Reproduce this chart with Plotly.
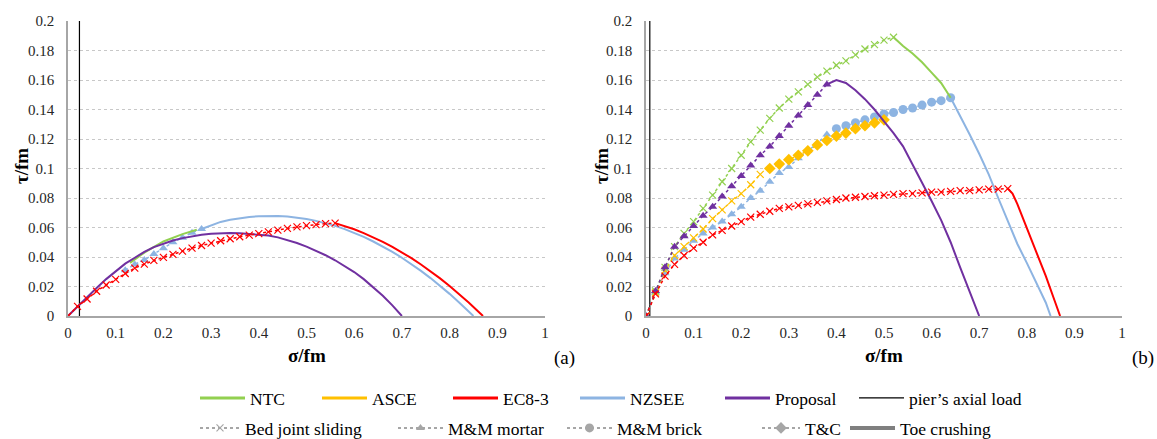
import plotly.graph_objects as go

# ---------------- data ----------------
# Panel (a)
EC8_A_BJS_X = [0, 0.02, 0.04, 0.06, 0.08, 0.10, 0.12, 0.14, 0.16, 0.18, 0.20, 0.22, 0.24, 0.26, 0.28,
               0.30, 0.32, 0.34, 0.36, 0.38, 0.40, 0.42, 0.44, 0.46, 0.48, 0.50, 0.52, 0.54, 0.56]
EC8_A_BJS_Y = [0, 0.0065, 0.0115, 0.0168, 0.021, 0.0248, 0.0288, 0.0325, 0.0352, 0.0377, 0.0397, 0.0418,
               0.044, 0.046, 0.0478, 0.0494, 0.051, 0.0524, 0.0537, 0.0548, 0.0558, 0.0570, 0.0582, 0.0594,
               0.0604, 0.0613, 0.0620, 0.0626, 0.0630]
EC8_A_TOE_X = [0.56, 0.58, 0.60, 0.62, 0.64, 0.66, 0.68, 0.70, 0.72, 0.74, 0.76, 0.78, 0.80, 0.82, 0.84, 0.86, 0.87]
EC8_A_TOE_Y = [0.0630, 0.0611, 0.0588, 0.0562, 0.0534, 0.0503, 0.0469, 0.0432, 0.0392, 0.0349, 0.0303,
               0.0255, 0.0203, 0.0149, 0.0091, 0.0031, 0.0]
NZSEE_A_MOR_X = [0.12, 0.14, 0.16, 0.18, 0.20, 0.22, 0.24, 0.26, 0.28]
NZSEE_A_MOR_Y = [0.031, 0.035, 0.038, 0.042, 0.046, 0.050, 0.053, 0.0565, 0.059]
NZSEE_A_TOE_X = [0.28, 0.30, 0.32, 0.34, 0.36, 0.38, 0.40, 0.42, 0.44, 0.46, 0.48, 0.50, 0.52, 0.54, 0.56,
                 0.58, 0.60, 0.62, 0.64, 0.66, 0.68, 0.70, 0.72, 0.74, 0.76, 0.78, 0.80, 0.82, 0.84, 0.85]
NZSEE_A_TOE_Y = [0.059, 0.0615, 0.0638, 0.0652, 0.0663, 0.0671, 0.0677, 0.0679, 0.0678, 0.0675, 0.0668,
                 0.0658, 0.0645, 0.0630, 0.0611, 0.0589, 0.0564, 0.0536, 0.0505, 0.0472, 0.0435, 0.0395,
                 0.0352, 0.0306, 0.0257, 0.0205, 0.0150, 0.0092, 0.0032, 0.0]
NTC_A_TOE_X = [0.13, 0.16, 0.20, 0.24, 0.27]
NTC_A_TOE_Y = [0.036, 0.043, 0.0505, 0.0555, 0.0585]
PROP_A_X = [0, 0.02, 0.04, 0.06, 0.08, 0.10, 0.12, 0.14, 0.16, 0.18, 0.20, 0.22, 0.24, 0.26, 0.28, 0.30,
            0.32, 0.34, 0.36, 0.38, 0.40, 0.42, 0.44, 0.46, 0.48, 0.50, 0.52, 0.54, 0.56, 0.58, 0.60,
            0.62, 0.64, 0.66, 0.68, 0.70]
PROP_A_Y = [0, 0.0065, 0.0128, 0.0190, 0.0250, 0.0300, 0.0355, 0.0395, 0.0435, 0.0467, 0.0492, 0.0512,
            0.0528, 0.0541, 0.0551, 0.0557, 0.0561, 0.0562, 0.0561, 0.0557, 0.0552, 0.0545, 0.0533,
            0.0516, 0.0495, 0.0470, 0.0443, 0.0412, 0.0378, 0.0340, 0.0298, 0.0250, 0.0196, 0.0137,
            0.0072, 0.0]
PIER_A_X = [0.024, 0.024]

# Panel (b)
NTC_B_BJS_X = [0, 0.02, 0.04, 0.06, 0.08, 0.10, 0.12, 0.14, 0.16, 0.18, 0.20, 0.22, 0.24, 0.26, 0.28,
               0.30, 0.32, 0.34, 0.36, 0.38, 0.40, 0.42, 0.44, 0.46, 0.48, 0.50, 0.52]
NTC_B_BJS_Y = [0, 0.017, 0.033, 0.047, 0.056, 0.064, 0.073, 0.082, 0.091, 0.100, 0.109, 0.118, 0.126,
               0.134, 0.141, 0.147, 0.152, 0.157, 0.162, 0.166, 0.170, 0.173, 0.177, 0.181, 0.184, 0.187, 0.189]
NTC_B_TOE_X = [0.52, 0.54, 0.56, 0.58, 0.60, 0.62, 0.64]
NTC_B_TOE_Y = [0.189, 0.183, 0.178, 0.172, 0.165, 0.158, 0.148]
PROP_B_MOR_X = [0, 0.02, 0.04, 0.06, 0.08, 0.10, 0.12, 0.14, 0.16, 0.18, 0.20, 0.22, 0.24, 0.26, 0.28,
                0.30, 0.32, 0.34, 0.36, 0.38]
PROP_B_MOR_Y = [0, 0.017, 0.033, 0.047, 0.054, 0.061, 0.068, 0.074, 0.081, 0.088, 0.095, 0.102, 0.109,
                0.115, 0.122, 0.129, 0.136, 0.143, 0.150, 0.157]
PROP_B_TOE_X = [0.38, 0.40, 0.42, 0.44, 0.46, 0.48, 0.50, 0.52, 0.54, 0.56, 0.58, 0.60, 0.62, 0.64, 0.66, 0.68, 0.70]
PROP_B_TOE_Y = [0.157, 0.160, 0.158, 0.153, 0.147, 0.140, 0.132, 0.124, 0.115, 0.103, 0.091, 0.078,
                0.065, 0.050, 0.033, 0.017, 0.0]
ASCE_B_BJS_X = [0, 0.02, 0.04, 0.06, 0.08, 0.10, 0.12, 0.14, 0.16, 0.18, 0.20, 0.22, 0.24]
ASCE_B_BJS_Y = [0, 0.016, 0.031, 0.041, 0.047, 0.053, 0.059, 0.066, 0.072, 0.078, 0.083, 0.089, 0.096]
ASCE_B_TC_X = [0.26, 0.28, 0.30, 0.32, 0.34, 0.36, 0.38, 0.40, 0.42, 0.44, 0.46, 0.48, 0.50]
ASCE_B_TC_Y = [0.100, 0.103, 0.106, 0.109, 0.112, 0.116, 0.119, 0.122, 0.124, 0.127, 0.129, 0.131, 0.133]
NZSEE_B_MOR_X = [0, 0.02, 0.04, 0.06, 0.08, 0.10, 0.12, 0.14, 0.16, 0.18, 0.20, 0.22, 0.24, 0.26, 0.28,
                 0.30, 0.32, 0.34, 0.36, 0.38]
NZSEE_B_MOR_Y = [0, 0.016, 0.029, 0.039, 0.045, 0.051, 0.056, 0.060, 0.064, 0.069, 0.074, 0.080, 0.085,
                 0.091, 0.097, 0.101, 0.107, 0.112, 0.117, 0.123]
NZSEE_B_BRK_X = [0.40, 0.42, 0.44, 0.46, 0.48, 0.50, 0.52, 0.54, 0.56, 0.58, 0.60, 0.62, 0.64]
NZSEE_B_BRK_Y = [0.127, 0.129, 0.131, 0.133, 0.135, 0.137, 0.138, 0.140, 0.141, 0.143, 0.145, 0.146, 0.148]
NZSEE_B_TOE_X = [0.64, 0.66, 0.68, 0.70, 0.72, 0.74, 0.76, 0.78, 0.80, 0.82, 0.84, 0.85]
NZSEE_B_TOE_Y = [0.148, 0.136, 0.123, 0.110, 0.096, 0.080, 0.064, 0.049, 0.036, 0.023, 0.009, 0.0]
EC8_B_BJS_X = [0, 0.02, 0.04, 0.06, 0.08, 0.10, 0.12, 0.14, 0.16, 0.18, 0.20, 0.22, 0.24, 0.26, 0.28,
               0.30, 0.32, 0.34, 0.36, 0.38, 0.40, 0.42, 0.44, 0.46, 0.48, 0.50, 0.52, 0.54, 0.56, 0.58,
               0.60, 0.62, 0.64, 0.66, 0.68, 0.70, 0.72, 0.74, 0.76]
EC8_B_BJS_Y = [0, 0.015, 0.027, 0.035, 0.041, 0.046, 0.050, 0.055, 0.058, 0.061, 0.064, 0.067, 0.069,
               0.071, 0.073, 0.074, 0.075, 0.076, 0.077, 0.078, 0.079, 0.080, 0.0805, 0.081, 0.0815,
               0.082, 0.0825, 0.083, 0.083, 0.0835, 0.084, 0.084, 0.0845, 0.085, 0.085, 0.0855, 0.086,
               0.086, 0.0864]
EC8_B_TOE_X = [0.76, 0.77, 0.78, 0.80, 0.82, 0.84, 0.86, 0.87]
EC8_B_TOE_Y = [0.0864, 0.083, 0.076, 0.060, 0.043, 0.027, 0.009, 0.0]
PIER_B_X = [0.008, 0.008]
PIER_Y = [0, 0.2]

X_TICKS = [0, 0.1, 0.2, 0.3, 0.4, 0.5, 0.6, 0.7, 0.8, 0.9, 1]
X_TICK_TEXT = ["0", "0.1", "0.2", "0.3", "0.4", "0.5", "0.6", "0.7", "0.8", "0.9", "1"]
Y_TICKS = [0, 0.02, 0.04, 0.06, 0.08, 0.10, 0.12, 0.14, 0.16, 0.18, 0.20]
Y_TICK_TEXT = ["0", "0.02", "0.04", "0.06", "0.08", "0.1", "0.12", "0.14", "0.16", "0.18", "0.2"]

CODES = ["NTC", "ASCE", "EC8-3", "NZSEE", "Proposal", "pier\u2019s axial load"]
MODES = ["Bed joint sliding", "M&M mortar", "M&M brick", "T&C", "Toe crushing"]
X_TITLE = "\u03c3/fm"
Y_TITLE = "\u03c4/fm"
PANEL_TAGS = ["(a)", "(b)"]

# ---------------- styling ----------------
W, H = 1157, 439
FONT = "Liberation Serif, Times New Roman, serif"
C = {"NTC": "#92d050", "ASCE": "#ffc000", "EC8-3": "#ff0000", "NZSEE": "#8db4e2",
     "Proposal": "#7030a0", "pier": "#000000"}
GRAY = "#a6a6a6"
SYM = {"bjs": ("x-thin", 7), "mor": ("triangle-up", 8), "brk": ("circle", 9), "tc": ("diamond", 9)}

fig = go.Figure()


def add(x, y, color, style, xa, ya, width=2):
    if style == "toe":
        fig.add_trace(go.Scatter(x=x, y=y, mode="lines", line=dict(color=color, width=width),
                                 xaxis=xa, yaxis=ya, showlegend=False, hoverinfo="skip"))
    else:
        sym, size = SYM[style]
        marker = dict(symbol=sym, size=size, color=color)
        if sym == "x-thin":
            marker["line"] = dict(color=color, width=1.2)
        fig.add_trace(go.Scatter(x=x, y=y, mode="lines+markers",
                                 line=dict(color=color, width=1.5, dash="dot"), marker=marker,
                                 xaxis=xa, yaxis=ya, showlegend=False, hoverinfo="skip"))


# panel (a)
add(PIER_A_X, PIER_Y, C["pier"], "toe", "x", "y", width=1.2)
add(NZSEE_A_MOR_X, NZSEE_A_MOR_Y, C["NZSEE"], "mor", "x", "y")
add(NZSEE_A_TOE_X, NZSEE_A_TOE_Y, C["NZSEE"], "toe", "x", "y")
add(NTC_A_TOE_X, NTC_A_TOE_Y, C["NTC"], "toe", "x", "y")
add(PROP_A_X, PROP_A_Y, C["Proposal"], "toe", "x", "y")
add(EC8_A_TOE_X, EC8_A_TOE_Y, C["EC8-3"], "toe", "x", "y")
add(EC8_A_BJS_X, EC8_A_BJS_Y, C["EC8-3"], "bjs", "x", "y")

# panel (b)
add(PIER_B_X, PIER_Y, C["pier"], "toe", "x2", "y2", width=1.2)
add(NZSEE_B_MOR_X, NZSEE_B_MOR_Y, C["NZSEE"], "mor", "x2", "y2")
add(NZSEE_B_BRK_X, NZSEE_B_BRK_Y, C["NZSEE"], "brk", "x2", "y2")
add(NZSEE_B_TOE_X, NZSEE_B_TOE_Y, C["NZSEE"], "toe", "x2", "y2")
add(ASCE_B_BJS_X, ASCE_B_BJS_Y, C["ASCE"], "bjs", "x2", "y2")
add(ASCE_B_TC_X, ASCE_B_TC_Y, C["ASCE"], "tc", "x2", "y2")
add(NTC_B_BJS_X, NTC_B_BJS_Y, C["NTC"], "bjs", "x2", "y2")
add(NTC_B_TOE_X, NTC_B_TOE_Y, C["NTC"], "toe", "x2", "y2")
add(PROP_B_MOR_X, PROP_B_MOR_Y, C["Proposal"], "mor", "x2", "y2")
add(PROP_B_TOE_X, PROP_B_TOE_Y, C["Proposal"], "toe", "x2", "y2")
add(EC8_B_TOE_X, EC8_B_TOE_Y, C["EC8-3"], "toe", "x2", "y2")
add(EC8_B_BJS_X, EC8_B_BJS_Y, C["EC8-3"], "bjs", "x2", "y2")

# ---------------- legends (one legend per entry, placed like the reference) ----------------
ROW1_TEXT_PX = [250, 372, 503, 630, 775, 909]
ROW2_TEXT_PX = [245, 448, 617, 805, 900]
ROW1_ITEMW = [45, 45, 45, 45, 45, 45]
ROW2_ITEMW = [40, 45, 45, 38, 45]
ROW1_Y, ROW2_Y = 398, 428

legend_layout = {}


def legend_box(px, itemw, ypx):
    return dict(x=(px - itemw - 10) / W, y=1 - ypx / H, xanchor="left", yanchor="middle",
                bgcolor="rgba(0,0,0,0)", font=dict(family=FONT, size=17.5, color="#000"),
                itemwidth=itemw)


k = 0
code_colors = [C["NTC"], C["ASCE"], C["EC8-3"], C["NZSEE"], C["Proposal"], C["pier"]]
for name, col, px, iw in zip(CODES, code_colors, ROW1_TEXT_PX, ROW1_ITEMW):
    k += 1
    lname = "legend" if k == 1 else f"legend{k}"
    width = 1.2 if col == "#000000" else 3
    fig.add_trace(go.Scatter(x=[None], y=[None], mode="lines", name=name,
                             line=dict(color=col, width=width), legend=lname, showlegend=True))
    legend_layout[lname] = legend_box(px, iw, ROW1_Y)

mode_styles = ["bjs", "mor", "brk", "tc", "toe"]
for name, st, px, iw in zip(MODES, mode_styles, ROW2_TEXT_PX, ROW2_ITEMW):
    k += 1
    lname = f"legend{k}"
    if st == "toe":
        tr = go.Scatter(x=[None], y=[None], mode="lines", name=name, line=dict(color="#7f7f7f", width=4),
                        legend=lname, showlegend=True)
    else:
        sym, size = SYM[st]
        marker = dict(symbol=sym, size=size, color=GRAY)
        if sym == "x-thin":
            marker["line"] = dict(color=GRAY, width=1.2)
        tr = go.Scatter(x=[None], y=[None], mode="lines+markers", name=name,
                        line=dict(color=GRAY, width=2, dash="dot"), marker=marker,
                        legend=lname, showlegend=True)
    fig.add_trace(tr)
    legend_layout[lname] = legend_box(px, iw, ROW2_Y)

# ---------------- axes ----------------
Y_DOM = [1 - 316 / H, 1 - 21 / H]
xcommon = dict(range=[0, 1], tickvals=X_TICKS, ticktext=X_TICK_TEXT, showgrid=False, zeroline=False,
               showline=True, linecolor="#a6a6a6", linewidth=1.5, ticks="outside", ticklen=2,
               tickcolor="rgba(0,0,0,0)", tickfont=dict(family=FONT, size=15, color="#262626"),
               automargin=False, fixedrange=True)
ycommon = dict(range=[0, 0.2], tickvals=Y_TICKS, ticktext=Y_TICK_TEXT, showgrid=True,
               gridcolor="#c8c8c8", griddash="dot", gridwidth=1, zeroline=False,
               showline=True, linecolor="#a6a6a6", linewidth=1.5, ticks="outside", ticklen=9,
               tickcolor="rgba(0,0,0,0)", tickfont=dict(family=FONT, size=15, color="#262626"),
               domain=Y_DOM, automargin=False, fixedrange=True)

title_font = dict(family=FONT, size=19, color="#000", weight="bold")
annotations = []
for xt_px, yt_px in [(307, 355), (884, 355)]:
    annotations.append(dict(text=X_TITLE, x=xt_px / W, y=1 - yt_px / H, xref="paper", yref="paper",
                            showarrow=False, font=title_font, xanchor="center", yanchor="middle"))
for xt_px, yt_px in [(21, 166), (601, 166)]:
    annotations.append(dict(text=Y_TITLE, x=xt_px / W, y=1 - yt_px / H, xref="paper", yref="paper",
                            showarrow=False, font=title_font, textangle=-90,
                            xanchor="center", yanchor="middle"))
for tag, xt_px in zip(PANEL_TAGS, [577, 1156]):
    annotations.append(dict(text=tag, x=xt_px / W, y=1 - 358 / H, xref="paper", yref="paper",
                            showarrow=False, font=dict(family=FONT, size=19, color="#000"),
                            xanchor="right", yanchor="middle"))

fig.update_layout(
    width=W, height=H, margin=dict(l=0, r=0, t=0, b=0, autoexpand=False),
    font=dict(family=FONT, color="#000"),
    paper_bgcolor="white", plot_bgcolor="white",
    xaxis=dict(domain=[68 / W, 545 / W], anchor="y", **xcommon),
    yaxis=dict(anchor="x", **ycommon),
    xaxis2=dict(domain=[646 / W, 1122 / W], anchor="y2", **xcommon),
    yaxis2=dict(anchor="x2", **ycommon),
    annotations=annotations,
    **legend_layout,
)

fig.write_html("out.html", config={"displayModeBar": False},
               post_script="document.body.style.margin='0';document.body.style.overflow='hidden';")
